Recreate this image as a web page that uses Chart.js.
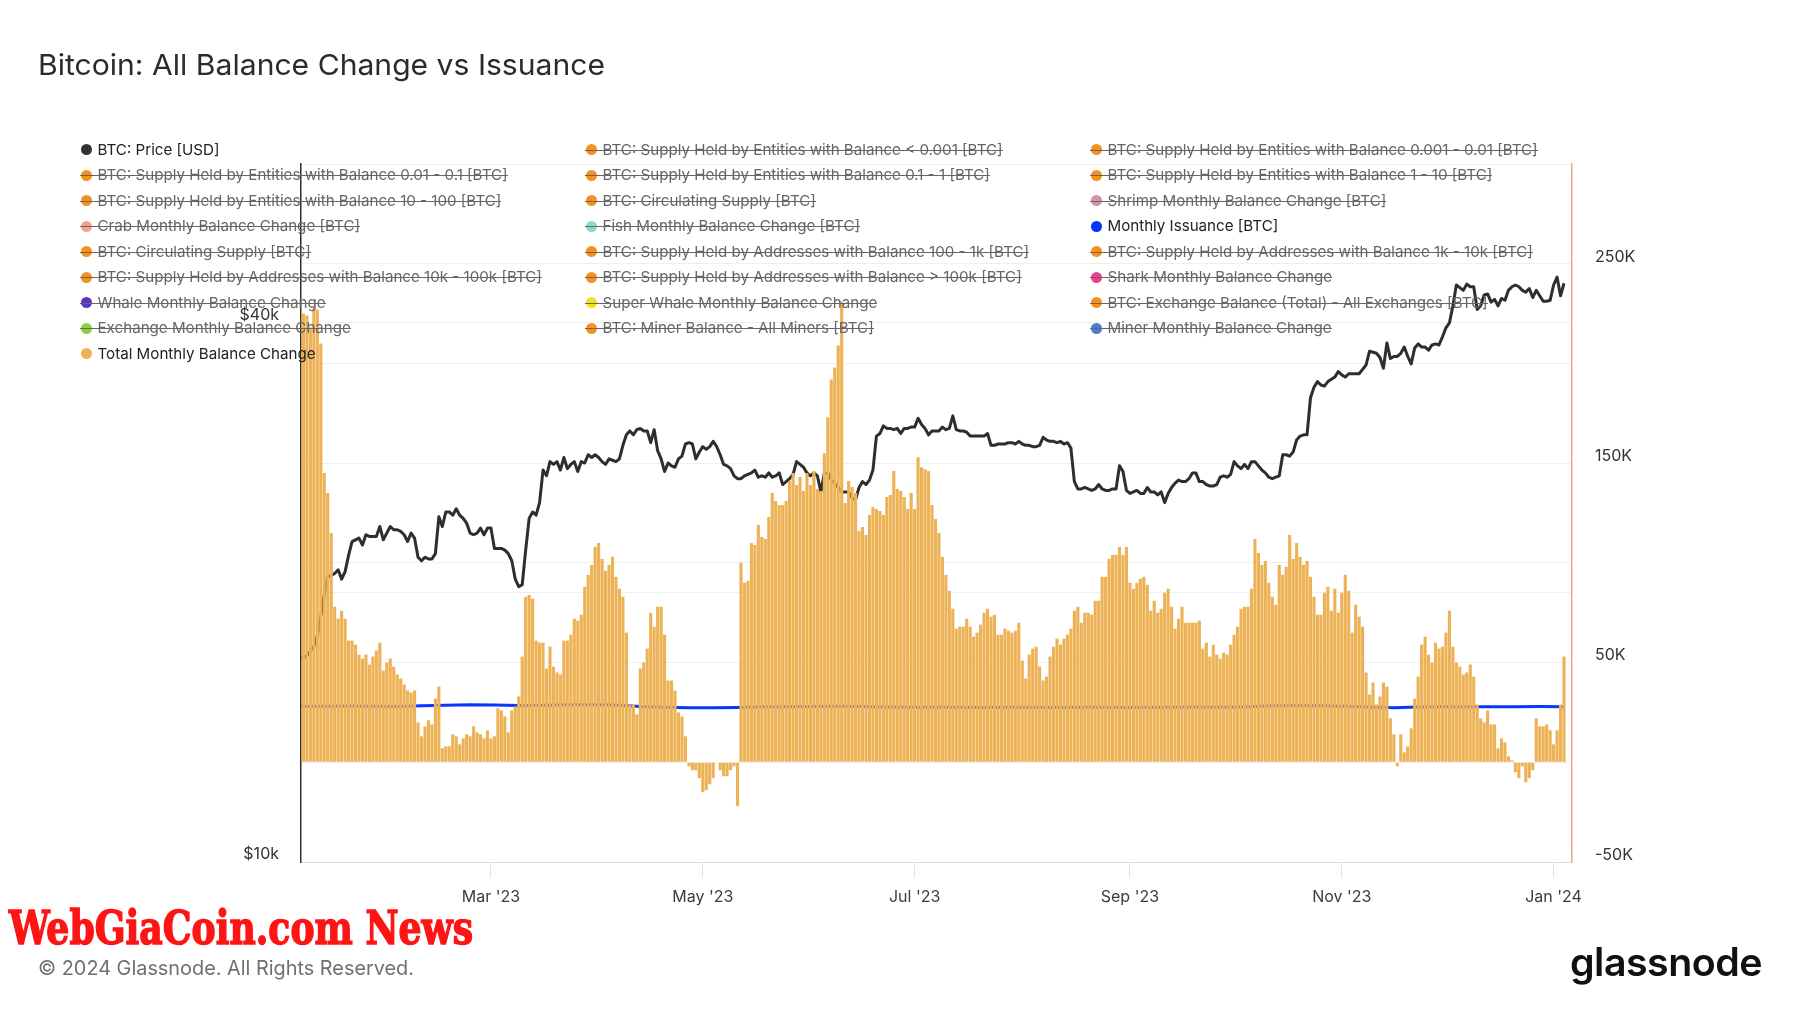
<!DOCTYPE html>
<html>
<head>
<meta charset="utf-8">
<title>Bitcoin: All Balance Change vs Issuance</title>
<script src="https://cdn.jsdelivr.net/npm/chart.js@4.4.1/dist/chart.umd.min.js"></script>
<style>
  html, body { margin: 0; padding: 0; background: #fff; }
  body { width: 1800px; height: 1013px; position: relative; overflow: hidden; font-family: Inter, 'Noto Sans', sans-serif; }
  #chart { position: absolute; left: 0; top: 0; }
  .txt { position: absolute; white-space: nowrap; transform-origin: left top; }
  .title { left: 38px; top: 45px; font-size: 29px; line-height: 40px; color: #2b2b2b; }
  .footer { left: 38px; top: 956px; font-size: 20px; line-height: 24px; color: #707070; }
  .mark { left: 9px; top: 903px; font-family: 'DejaVu Serif Condensed', 'DejaVu Serif', serif; font-weight: bold; font-size: 46px; line-height: 50px; color: #ff1414; -webkit-text-stroke: 1.4px #ff1414; }
  .logo { left: 1570px; top: 937px; font-size: 39px; line-height: 50px; font-weight: 600; color: #111; letter-spacing: -0.5px; }
  .legend-item { position: absolute; height: 20px; line-height: 20px; display: flex; align-items: center; white-space: nowrap; font-size: 15.15px; color: #222; z-index: 2; }
  .legend-item .dot { width: 11px; height: 11px; border-radius: 50%; margin-right: 6px; flex: none; }
  .legend-item.off { color: #666; }
  .legend-item.off::after { content: ''; position: absolute; left: -1px; right: 0; top: 10px; height: 1px; background: #666; }
</style>
</head>
<body>
<canvas id="chart" width="1800" height="1013"></canvas>
<div class="txt title" id="title">Bitcoin: All Balance Change vs Issuance</div>
<div id="legend"></div>
<div class="txt mark" id="mark">WebGiaCoin.com News</div>
<div class="txt footer" id="footer">© 2024 Glassnode. All Rights Reserved.</div>
<div class="txt logo" id="logo">glassnode</div>
<script>
// daily values, day 0 = 5 Jan 2023, last = 4 Jan 2024
const balanceChangeK = [
  227, 225, 224, 218, 228, 227, 210, 145, 135, 115, 78, 72, 76, 72, 61, 61, 59, 54, 52, 54,
  49, 53, 56, 60, 46, 50, 52, 48, 44, 42, 39, 36, 35, 36, 20, 13, 18, 21, 19, 32,
  38, 7, 8, 8, 14, 13, 9, 12, 14, 13, 18, 15, 14, 12, 16, 12, 13, 27, 26, 23,
  15, 26, 28, 33, 53, 83, 84, 82, 61, 60, 60, 47, 58, 48, 45,
  44, 61, 61, 64, 72, 71, 74, 88, 94, 99, 108, 110, 102, 96, 99, 103, 93, 87, 83, 65,
  29, 29, 24, 47, 50, 57, 75, 68, 78, 78, 64, 41, 41, 36, 25, 23, 13, -2, -4, -4,
  -8, -15, -14, -11, -8, 0, -4, -7, -7, -4, -2, -22, 100, 90, 91, 110, 109, 119, 113, 112,
  123, 135, 131, 129, 129, 131, 141, 145, 139, 143, 136, 145, 139, 146, 137,
  136, 155, 173, 192, 198, 209, 231, 130, 141, 138, 135, 116, 118, 114, 124, 128, 127, 126, 124, 133,
  134, 146, 137, 136, 133, 127, 135, 127, 153, 148, 147, 146, 129, 122, 115, 103, 94, 86, 77, 67,
  68, 68, 72, 68, 63, 65, 69, 75, 77, 73, 74, 64, 64, 67, 66, 65, 66, 70, 51, 42,
  54, 57, 58, 48, 41, 43, 53, 58, 62, 59, 62, 64, 67, 76, 78,
  70, 75, 75, 74, 81, 81, 93, 93, 102, 104, 104, 108, 104, 108, 90, 87, 90, 92, 93, 89,
  76, 81, 75, 77, 85, 87, 78, 67, 72, 78, 70, 70, 70, 70, 71, 57, 60, 53, 59, 54,
  52, 55, 54, 59, 64, 68, 77, 78, 78, 87, 112, 105, 99, 101, 90, 83, 79, 99, 94, 98,
  114, 102, 110, 103, 99, 101, 93, 83, 74, 74, 85, 88, 76, 87,
  75, 85, 94, 86, 65, 79, 73, 68, 45, 34, 40, 29, 33, 40, 38, 22, 14, -2, 14, 5,
  8, 17, 32, 43, 59, 63, 54, 50, 60, 57, 58, 65, 76, 58, 50, 48, 44, 45, 49, 43,
  29, 22, 20, 26, 19, 19, 7, 12, 10, 3, 1, -5, -8, -2, -10, -8, -4, 22, 18, 18,
  19, 16, 9, 16, 29, 53
];

const priceUsdK = [
  16.9, 16.9, 17.0, 17.2, 17.4, 17.9, 18.8, 19.9, 20.8, 20.9, 21.0, 21.2, 20.7, 21.1, 22.0, 22.8, 22.9, 23.0, 22.6, 23.2,
  23.1, 23.1, 23.1, 23.7, 22.9, 23.3, 23.7, 23.5, 23.5, 23.4, 23.2, 22.8, 23.3, 23.0, 21.9, 21.7, 21.9, 21.8, 21.8, 22.1,
  24.3, 23.7, 24.6, 24.6, 24.4, 24.8, 24.4, 24.2, 23.9, 23.3, 23.2, 23.3, 23.6, 23.2, 23.6, 23.6, 22.4, 22.4, 22.4, 22.3,
  22.1, 21.7, 20.7, 20.3, 20.4, 22.3, 24.2, 24.6, 24.4, 25.2, 27.4, 27.0, 28.0, 27.8, 28.0,
  27.4, 28.3, 27.5, 27.8, 28.0, 27.3, 28.0, 27.9, 28.5, 28.3, 28.5, 28.3, 28.0, 27.8, 28.2, 28.1, 28.0, 28.2, 29.2, 30.0,
  30.3, 30.0, 30.4, 30.5, 30.3, 30.3, 29.4, 30.4, 28.8, 28.2, 27.3, 27.9, 27.7, 27.6, 28.2, 28.4, 29.3, 29.4, 29.3, 28.2,
  28.7, 29.1, 28.9, 29.1, 29.5, 29.1, 28.5, 27.8, 27.7, 27.5, 27.0, 26.8, 26.8, 27.0, 27.1, 27.2, 27.4, 26.9, 27.0, 26.9,
  27.2, 26.9, 27.0, 27.2, 26.4, 26.6, 26.8, 27.1, 28.0, 27.8, 27.6, 27.2, 27.0, 27.2,
  27.0, 25.9, 27.2, 27.2, 26.7, 26.5, 26.2, 25.9, 25.9, 25.9, 25.5, 25.4, 26.2, 26.6, 26.4, 26.7, 27.4, 29.9, 30.1, 30.7,
  30.5, 30.5, 30.4, 30.5, 30.1, 30.5, 30.5, 30.6, 30.6, 31.3, 30.8, 30.5, 30.0, 30.3, 30.3, 30.3, 30.6, 30.4, 30.5, 31.5,
  30.4, 30.3, 30.3, 30.2, 29.9, 29.9, 29.9, 29.9, 29.9, 30.1, 29.2, 29.2, 29.3, 29.3, 29.3, 29.4, 29.4, 29.3, 29.5, 29.3,
  29.2, 29.2, 29.1, 29.1, 29.2, 29.8, 29.6, 29.5, 29.5, 29.4, 29.5, 29.3, 29.4, 29.0,
  26.6, 26.1, 26.1, 26.2, 26.1, 26.0, 26.1, 26.4, 26.1, 26.0, 26.0, 26.1, 26.1, 27.7, 27.3, 26.0, 25.8, 25.9, 26.0, 25.8,
  25.8, 26.2, 25.9, 25.9, 25.7, 25.9, 25.2, 25.8, 26.2, 26.5, 26.7, 26.6, 26.6, 26.8, 27.2, 27.2, 26.6, 26.6, 26.4, 26.3,
  26.3, 26.4, 26.9, 27.0, 26.9, 27.1, 28.0, 27.7, 27.5, 27.8, 27.5, 28.0, 28.0, 27.7, 27.4, 27.2, 26.9, 26.8, 26.9, 27.0,
  28.5, 28.5, 28.4, 28.7, 29.6, 29.9, 30.0, 30.0, 33.0, 33.9, 34.4, 34.1, 34.0, 34.4, 34.6,
  34.8, 35.3, 35.0, 34.8, 35.1, 35.1, 35.1, 35.1, 35.5, 35.9, 37.2, 37.1, 37.0, 36.6, 35.6, 38.0, 36.5, 36.7, 36.7, 37.0,
  37.6, 36.7, 36.0, 37.5, 37.9, 37.6, 37.6, 37.3, 37.8, 37.9, 37.8, 38.6, 39.5, 40.0, 41.8, 44.1, 43.8, 43.5, 44.2, 43.9,
  43.9, 41.4, 41.8, 43.0, 43.1, 42.2, 42.5, 41.8, 42.6, 42.4, 43.5, 43.9, 44.1, 43.9, 43.5, 43.3, 43.7, 42.7, 43.5, 42.9,
  42.3, 42.3, 42.4, 44.1, 45.0, 42.9, 44.3
];

// monthly issuance read once a week
const issuanceDays = [0, 7, 14, 21, 28, 35, 42, 49, 56, 63, 70, 77, 84, 91, 98, 105, 112, 119, 126, 133,
  140, 147, 154, 161, 168, 175, 182, 189, 196, 203, 210, 217, 224, 231, 238, 245, 252, 259, 266, 273,
  280, 287, 294, 301, 308, 315, 322, 329, 336, 343, 350, 357, 364];
const issuanceK = [28.0, 28.1, 28.2, 28.1, 28.0, 28.3, 28.6, 28.8, 28.7, 28.5, 28.6, 28.8, 28.9, 28.7, 28.0, 27.6, 27.4, 27.3, 27.5, 27.8,
  27.9, 28.0, 28.1, 28.0, 27.7, 27.6, 27.6, 27.6, 27.5, 27.6, 27.6, 27.5, 27.6, 27.6, 27.5, 27.6, 27.6, 27.7, 27.6, 27.9,
  28.4, 28.5, 28.4, 28.1, 27.7, 27.4, 27.7, 27.9, 27.8, 27.9, 27.9, 28.0, 27.9];

const monthTickDays = [55, 116, 177, 239, 300, 361];
const monthTickLabels = ["Mar '23", "May '23", "Jul '23", "Sep '23", "Nov '23", "Jan '24"];
const priceTicks = [10, 20, 40];

const legendLabels = [
  'BTC: Price [USD]',
  'BTC: Supply Held by Entities with Balance < 0.001 [BTC]',
  'BTC: Supply Held by Entities with Balance 0.001 - 0.01 [BTC]',
  'BTC: Supply Held by Entities with Balance 0.01 - 0.1 [BTC]',
  'BTC: Supply Held by Entities with Balance 0.1 - 1 [BTC]',
  'BTC: Supply Held by Entities with Balance 1 - 10 [BTC]',
  'BTC: Supply Held by Entities with Balance 10 - 100 [BTC]',
  'BTC: Circulating Supply [BTC]',
  'Shrimp Monthly Balance Change [BTC]',
  'Crab Monthly Balance Change [BTC]',
  'Fish Monthly Balance Change [BTC]',
  'Monthly Issuance [BTC]',
  'BTC: Circulating Supply [BTC]',
  'BTC: Supply Held by Addresses with Balance 100 - 1k [BTC]',
  'BTC: Supply Held by Addresses with Balance 1k - 10k [BTC]',
  'BTC: Supply Held by Addresses with Balance 10k - 100k [BTC]',
  'BTC: Supply Held by Addresses with Balance > 100k [BTC]',
  'Shark Monthly Balance Change',
  'Whale Monthly Balance Change',
  'Super Whale Monthly Balance Change',
  'BTC: Exchange Balance (Total) - All Exchanges [BTC]',
  'Exchange Monthly Balance Change',
  'BTC: Miner Balance - All Miners [BTC]',
  'Miner Monthly Balance Change',
  'Total Monthly Balance Change'
];
const legendColors = [
  '#333333', '#f5921e', '#f5921e', '#f5921e', '#f5921e', '#f5921e', '#f5921e', '#f5921e',
  '#d98fae', '#f2a293', '#8dd6cf', '#0033ff', '#f5921e', '#f5921e', '#f5921e', '#f5921e',
  '#f5921e', '#e8428e', '#5b35c6', '#f3e21e', '#f5921e', '#88d43e', '#f5921e', '#4a7dce', '#edb255'
];
const legendVisible = [0, 11, 24];

const BAR_COLOR = 'rgb(237,178,86)';
const PRICE_COLOR = '#2e2e2e';
const ISSUANCE_COLOR = '#0a37ff';

function buildLegend() {
  const box = document.getElementById('legend');
  const colX = [86, 591, 1096];
  legendLabels.forEach((label, i) => {
    const col = i % 3;
    const row = Math.floor(i / 3);
    const item = document.createElement('div');
    item.className = 'legend-item' + (legendVisible.includes(i) ? '' : ' off');
    item.style.left = (colX[col] - 5.5) + 'px';
    item.style.top = (139.5 + row * 25.55) + 'px';
    item.innerHTML = `<span class="dot" style="background:${legendColors[i]}"></span><span></span>`;
    item.lastChild.textContent = label;
    box.appendChild(item);
  });
}

function fitWidth(id, target) {
  const el = document.getElementById(id);
  const w = el.getBoundingClientRect().width;
  if (w > 0) el.style.transform = `scaleX(${target / w})`;
}

const tickFont = { family: 'Inter', size: 16 };

function drawChart() {
  const ctx = document.getElementById('chart').getContext('2d');
  new Chart(ctx, {
    type: 'bar',
    data: {
      datasets: [
        {
          type: 'bar',
          label: 'Total Monthly Balance Change',
          data: balanceChangeK.map((v, i) => ({ x: i, y: v })),
          yAxisID: 'yBal',
          backgroundColor: BAR_COLOR,
          borderWidth: 0,
          barPercentage: 0.9,
          categoryPercentage: 1,
          order: 0,
        },
        {
          type: 'line',
          label: 'Monthly Issuance [BTC]',
          data: issuanceDays.map((d, i) => ({ x: d, y: issuanceK[i] })),
          yAxisID: 'yBal',
          borderColor: ISSUANCE_COLOR,
          borderWidth: 3,
          pointRadius: 0,
          tension: 0,
          order: 1,
        },
        {
          type: 'line',
          label: 'BTC: Price [USD]',
          data: priceUsdK.map((v, i) => ({ x: i, y: v })),
          yAxisID: 'yPrice',
          borderColor: PRICE_COLOR,
          borderWidth: 3,
          borderJoinStyle: 'round',
          pointRadius: 0,
          tension: 0,
          order: 2,
        },
      ],
    },
    options: {
      responsive: false,
      animation: false,
      devicePixelRatio: 1,
      layout: { padding: { top: 164, left: 0, right: 0, bottom: 0 } },
      plugins: { legend: { display: false }, tooltip: { enabled: false } },
      scales: {
        x: {
          type: 'linear',
          min: 0.3,
          max: 366.3,
          offset: false,
          afterBuildTicks: s => { s.ticks = monthTickDays.map(v => ({ value: v })); },
          afterFit: s => { s.height = 151; },
          grid: { drawOnChartArea: false, drawTicks: true, tickLength: 16, color: '#e2e2e2', offset: false },
          border: { color: '#dcdcdc', width: 1 },
          ticks: {
            autoSkip: false, maxRotation: 0, padding: 10, color: '#3c3c3c', font: tickFont,
            callback: v => { const k = monthTickDays.indexOf(v); return k < 0 ? '' : monthTickLabels[k]; },
          },
        },
        yPrice: {
          type: 'logarithmic',
          position: 'left',
          min: 10,
          max: 60.2,
          afterBuildTicks: s => { s.ticks = priceTicks.map(v => ({ value: v })); },
          afterFit: s => { s.width = 301; },
          grid: { color: '#efefef', drawTicks: false },
          border: { color: '#2f2f2f', width: 1.5 },
          ticks: {
            padding: 22, labelOffset: -8, color: '#333', font: tickFont,
            callback: v => (v === 20 ? '' : '$' + v + 'k'),
          },
        },
        yBal: {
          type: 'linear',
          position: 'right',
          min: -50,
          max: 300,
          afterFit: s => { s.width = 228; },
          grid: { color: '#efefef', drawTicks: false },
          border: { color: '#f5a18c', width: 1.5 },
          ticks: {
            stepSize: 50, padding: 23, labelOffset: -7, color: '#333', font: tickFont,
            callback: v => (Math.abs(v / 50) % 2 === 1 ? v + 'K' : ''),
          },
        },
      },
    },
  });
}

buildLegend();
drawChart();
fitWidth('title', 567);
fitWidth('footer', 376);
fitWidth('mark', 464);
fitWidth('logo', 192);
</script>
</body>
</html>
